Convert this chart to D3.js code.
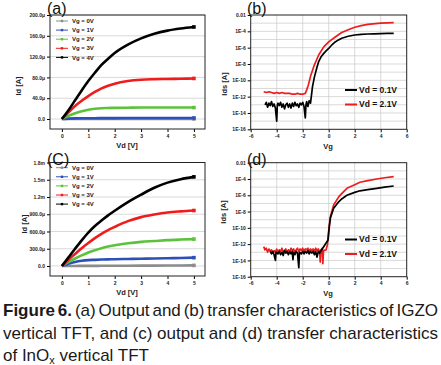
<html>
<head>
  <script src="https://d3js.org/d3.v7.min.js"></script>
  <style>
    body { margin: 0; background: #fff; }
    text { font-family: "Liberation Sans", Arial, sans-serif; }
    .tick text { font-weight: bold; font-size: 5px; fill: #222; }
    .grid line { stroke: #c8c8c8; stroke-width: 0.7; }
  </style>
</head>
<body>
<script>
// ---- data (currents of output curves in uA, transfer curves as log10 of A) ----
var vd = [0, 0.25, 0.5, 0.75, 1, 1.25, 1.5, 1.75, 2, 2.5, 3, 3.5, 4, 4.5, 5];
var gateLabels = ["Vg = 0V", "Vg = 1V", "Vg = 2V", "Vg = 3V", "Vg = 4V"];
var gateColors = ["#8c8c8c", "#2f4fb8", "#5cc23c", "#f01c1c", "#000000"];

var igzoOut = [
  [0, 0.1, 0.1, 0.2, 0.2, 0.2, 0.2, 0.2, 0.2, 0.2, 0.2, 0.2, 0.2, 0.2, 0.2],
  [0, 0.8, 1.2, 1.4, 1.5, 1.6, 1.7, 1.7, 1.8, 1.9, 2, 2, 2, 2, 2],
  [0, 6, 11, 15, 18, 19.8, 20.8, 21.2, 21.5, 21.8, 22, 22, 22, 22, 22],
  [0, 13, 25, 35, 44, 52, 59, 64, 68, 73, 75.5, 76.5, 77, 77.5, 78],
  [0, 17, 36, 55, 73, 89, 104, 116, 127, 143, 155, 164, 170, 174, 177]
];
var inoxOut = [
  [0, 0.5, 1, 1.5, 2, 2.5, 3, 3.5, 4, 5, 6, 7, 8, 9, 10],
  [0, 40, 70, 90, 102, 107, 112, 115, 118, 122, 126, 130, 135, 140, 145],
  [0, 70, 130, 185, 235, 275, 310, 338, 360, 395, 420, 435, 450, 460, 468],
  [0, 110, 210, 310, 400, 485, 560, 625, 680, 780, 850, 895, 930, 950, 965],
  [0, 150, 300, 445, 580, 695, 790, 880, 960, 1110, 1240, 1360, 1450, 1510, 1550]
];
var vdTicks = [0, 1, 2, 3, 4, 5];
var igzoTicks = [0, 40, 80, 120, 160, 200];
var igzoTickLabels = ["0.0", "40.0\u03bc", "80.0\u03bc", "120.0\u03bc", "160.0\u03bc", "200.0\u03bc"];
var inoxTicks = [0, 300, 600, 900, 1200, 1500, 1800];
var inoxTickLabels = ["0.0", "300.0\u03bc", "600.0\u03bc", "900.0\u03bc", "1.2m", "1.5m", "1.8m"];

var logTicks = [-2, -4, -6, -8, -10, -12, -14, -16];
var logTickLabels = ["0.01", "1E-4", "1E-6", "1E-8", "1E-10", "1E-12", "1E-14", "1E-16"];
var vgTicks = [-6, -4, -2, 0, 2, 4, 6];
var vgTickLabels = ["-6", "-4", "-2", "0", "2", "4", "6"];
var drainLabels = ["Vd = 0.1V", "Vd = 2.1V"];
var drainColors = ["#000000", "#ee1c1c"];

var igzoLowVg = [-4.9, -4.8, -4.7, -4.6, -4.5, -4.4, -4.3, -4.2, -4.1, -4.0, -3.95, -3.9, -3.8, -3.7, -3.6, -3.5, -3.4, -3.3, -3.2, -3.1, -3.0, -2.9, -2.8, -2.7, -2.6, -2.5, -2.4, -2.3, -2.2, -2.1, -2.0, -1.9, -1.8, -1.75, -1.7, -1.6, -1.5, -1.4, -1.3, -1.25, -1.1, -1.0, -0.9, -0.77, -0.6, -0.38, -0.2, 0, 0.25, 0.5, 0.75, 1, 1.5, 2, 2.5, 3, 3.5, 4, 4.5, 5];
var igzoLow = [-13.0, -12.7, -13.3, -12.8, -13.1, -12.6, -13.2, -12.9, -13.4, -15.0, -13.0, -12.8, -13.1, -12.7, -13.3, -12.9, -13.5, -13.0, -12.8, -13.3, -12.9, -13.4, -12.8, -13.2, -12.7, -13.1, -12.9, -13.3, -12.8, -13.0, -12.7, -13.2, -14.6, -13.0, -12.6, -13.2, -12.5, -12.8, -11.5, -10.8, -9.6, -9.0, -8.4, -7.7, -7.15, -6.7, -6.4, -6.1, -5.65, -5.3, -5.05, -4.85, -4.6, -4.45, -4.38, -4.33, -4.3, -4.28, -4.26, -4.25];
var igzoHighVg = [-5, -4.8, -4.6, -4.4, -4.2, -4, -3.8, -3.6, -3.4, -3.2, -3, -2.8, -2.6, -2.4, -2.2, -2.0, -1.8, -1.7, -1.57, -1.38, -1.1, -0.77, -0.38, 0, 0.5, 1, 1.5, 2, 2.5, 3, 4, 5];
var igzoHigh = [-11.4, -11.5, -11.4, -11.5, -11.6, -11.5, -11.6, -11.5, -11.6, -11.6, -11.6, -11.7, -11.7, -11.6, -11.7, -11.7, -11.6, -11.2, -10.6, -9.4, -8.1, -6.9, -5.9, -5.3, -4.7, -4.15, -3.8, -3.5, -3.3, -3.15, -3.0, -2.93];

var inoxLowVg = [-4.5, -4.4, -4.3, -4.2, -4.1, -4.05, -3.9, -3.8, -3.7, -3.6, -3.5, -3.4, -3.3, -3.2, -3.1, -3.0, -2.9, -2.8, -2.75, -2.7, -2.6, -2.5, -2.4, -2.3, -2.25, -2.1, -2.0, -1.9, -1.8, -1.7, -1.6, -1.5, -1.4, -1.3, -1.2, -1.1, -1.0, -0.9, -0.8, -0.7, -0.05, 0.05, 0.13, 0.38, 0.77, 1.0, 1.4, 2, 2.4, 3, 3.7, 4.3, 5];
var inoxLow = [-12.9, -13.2, -12.9, -13.3, -14.0, -13.0, -13.2, -12.9, -13.3, -13.0, -13.4, -12.8, -13.1, -12.9, -13.3, -12.9, -13.2, -12.9, -13.9, -13.0, -13.3, -12.9, -13.1, -14.9, -13.0, -13.2, -12.9, -13.2, -12.9, -13.1, -12.8, -13.2, -12.9, -13.1, -12.9, -13.3, -12.9, -13.6, -12.9, -13.1, -11.5, -9.8, -8.8, -7.6, -6.8, -6.45, -6.0, -5.65, -5.45, -5.3, -5.15, -5.0, -4.86];
var inoxHighVg = [-5, -4.9, -4.8, -4.7, -4.6, -4.5, -4.4, -4.3, -4.2, -4.1, -4.0, -3.9, -3.8, -3.7, -3.6, -3.5, -3.4, -3.3, -3.2, -3.1, -3.0, -2.9, -2.8, -2.7, -2.6, -2.5, -2.4, -2.3, -2.2, -2.1, -2.0, -1.9, -1.8, -1.7, -1.6, -1.5, -1.4, -1.3, -1.2, -1.1, -1.0, -0.9, -0.8, -0.7, -0.65, -0.6, -0.5, -0.45, -0.4, -0.2, -0.1, 0, 0.13, 0.38, 0.77, 1.0, 1.4, 2, 2.4, 3, 3.7, 4.3, 5];
var inoxHigh = [-12.3, -12.7, -12.5, -13.0, -12.6, -12.9, -12.7, -13.1, -12.8, -13.0, -12.6, -13.1, -12.7, -12.9, -12.5, -13.0, -12.8, -12.6, -13.1, -12.7, -12.9, -12.5, -12.8, -12.6, -13.0, -12.7, -12.5, -12.9, -12.6, -12.8, -12.5, -12.9, -12.6, -12.7, -12.5, -12.9, -12.6, -12.8, -12.6, -12.9, -12.5, -12.8, -12.6, -12.9, -14.2, -12.7, -12.5, -14.4, -12.8, -12.7, -12.1, -10.3, -8.6, -7.2, -6.2, -5.8, -5.15, -4.7, -4.4, -4.2, -4.0, -3.85, -3.7];

var W = 441, H = 365;
var svg = d3.select("body").append("svg").attr("width", W).attr("height", H);

function frame(g, x, y) {
  var r = x.range(), s = y.range();
  g.append("rect")
    .attr("x", r[0]).attr("y", s[1])
    .attr("width", r[1] - r[0]).attr("height", s[0] - s[1])
    .attr("fill", "none").attr("stroke", "#222").attr("stroke-width", 1);
}

function outputPanel(opt) {
  var g = svg.append("g");
  var x = d3.scaleLinear().domain([-0.45, 5.42]).range([50, 205]);
  var y = d3.scaleLinear().domain(opt.yDomain).range(opt.yRange);

  g.append("g").attr("class", "grid").selectAll("line")
    .data(opt.ticks).enter().append("line")
    .attr("x1", 50).attr("x2", 205)
    .attr("y1", function(d){ return y(d); }).attr("y2", function(d){ return y(d); });

  g.append("g").attr("transform", "translate(50,0)")
    .call(d3.axisLeft(y).tickValues(opt.ticks).tickSize(3).tickPadding(2)
      .tickFormat(function(d, i){ return opt.tickLabels[i]; }))
    .call(function(a){ a.select(".domain").remove(); });
  g.append("g").attr("transform", "translate(0," + opt.yRange[0] + ")")
    .call(d3.axisBottom(x).tickValues(vdTicks).tickSize(3).tickPadding(2)
      .tickFormat(function(d){ return String(d); }))
    .call(function(a){ a.select(".domain").remove(); });

  var line = d3.line()
    .x(function(d, i){ return x(vd[i]); })
    .y(function(d){ return y(d); })
    .curve(d3.curveMonotoneX);
  g.selectAll("path.curve").data(opt.series).enter().append("path")
    .attr("class", "curve")
    .attr("d", line)
    .attr("fill", "none")
    .attr("stroke", function(d, i){ return gateColors[i]; })
    .attr("stroke-width", 2.6);
  g.selectAll("rect.end").data(opt.series).enter().append("rect")
    .attr("class", "end")
    .attr("x", x(5) - 1.8).attr("y", function(d){ return y(d[d.length - 1]) - 1.8; })
    .attr("width", 3.6).attr("height", 3.6)
    .attr("fill", function(d, i){ return gateColors[i]; });

  frame(g, x, y);

  var leg = g.append("g").selectAll("g").data(gateLabels).enter().append("g")
    .attr("transform", function(d, i){ return "translate(56," + (opt.legendTop + i * 9.1) + ")"; });
  leg.append("line").attr("x1", 0).attr("x2", 12)
    .attr("stroke", function(d, i){ return gateColors[i]; }).attr("stroke-width", 1);
  leg.append("rect").attr("x", 4.8).attr("y", -1.2).attr("width", 2.4).attr("height", 2.4)
    .attr("fill", function(d, i){ return gateColors[i]; });
  leg.append("text").attr("x", 16).attr("dy", "0.35em")
    .attr("font-size", 6).attr("font-weight", "bold").attr("fill", "#222")
    .text(function(d){ return d; });

  g.append("text").attr("transform", "translate(" + opt.titleX + "," + opt.titleY + ") rotate(-90)")
    .attr("text-anchor", "middle").attr("font-size", 7.5).attr("font-weight", "bold").attr("fill", "#222")
    .text("Id [A]");
  g.append("text").attr("x", 127).attr("y", opt.xTitleY)
    .attr("text-anchor", "middle").attr("font-size", 7.5).attr("font-weight", "bold").attr("fill", "#222")
    .text("Vd [V]");
  g.append("text").attr("x", 47).attr("y", opt.labelY)
    .attr("font-size", 16).attr("fill", "#111").text(opt.label);
}

function transferPanel(opt) {
  var g = svg.append("g");
  var x = d3.scaleLinear().domain([-6, 6]).range([250.7, 406.7]);
  var y = d3.scaleLog().domain([1e-16, 1e-2]).range(opt.yRange);
  var decades = d3.range(-15, -2).map(function(e){ return Math.pow(10, e); });

  var grid = g.append("g").attr("class", "grid");
  grid.selectAll("line.h").data(decades).enter().append("line").attr("class", "h")
    .attr("x1", 250.7).attr("x2", 406.7)
    .attr("y1", function(d){ return y(d); }).attr("y2", function(d){ return y(d); });
  grid.selectAll("line.v").data([-4, -2, 0, 2, 4]).enter().append("line").attr("class", "v")
    .attr("x1", function(d){ return x(d); }).attr("x2", function(d){ return x(d); })
    .attr("y1", opt.yRange[0]).attr("y2", opt.yRange[1]);

  g.append("g").attr("transform", "translate(250.7,0)")
    .call(d3.axisLeft(y).tickValues(logTicks.map(function(e){ return Math.pow(10, e); }))
      .tickSize(3).tickPadding(2)
      .tickFormat(function(d, i){ return logTickLabels[i]; }))
    .call(function(a){ a.select(".domain").remove(); });
  g.append("g").attr("transform", "translate(0," + opt.yRange[0] + ")")
    .call(d3.axisBottom(x).tickValues(vgTicks).tickSize(3).tickPadding(2)
      .tickFormat(function(d, i){ return vgTickLabels[i]; }))
    .call(function(a){ a.select(".domain").remove(); });

  var line = d3.line()
    .x(function(d){ return x(d[0]); })
    .y(function(d){ return y(Math.pow(10, d[1])); });
  var series = opt.series.map(function(s){ return d3.zip(s[0], s[1]); });
  // red (2.1V) drawn first, black over it
  g.selectAll("path.curve").data([series[1], series[0]]).enter().append("path")
    .attr("class", "curve")
    .attr("d", line)
    .attr("fill", "none")
    .attr("stroke", function(d, i){ return i === 0 ? drainColors[1] : drainColors[0]; })
    .attr("stroke-width", 1.7)
    .attr("stroke-linejoin", "round");

  frame(g, x, y);

  var leg = g.append("g").selectAll("g").data(drainLabels).enter().append("g")
    .attr("transform", function(d, i){ return "translate(345," + (opt.legendTop + i * 14.5) + ")"; });
  leg.append("line").attr("x1", 0).attr("x2", 12)
    .attr("stroke", function(d, i){ return drainColors[i]; }).attr("stroke-width", 2);
  leg.append("text").attr("x", 14).attr("dy", "0.35em")
    .attr("font-size", 8.5).attr("font-weight", "bold").attr("fill", "#111")
    .text(function(d){ return d; });

  g.append("text").attr("transform", "translate(" + opt.titleX + "," + opt.titleY + ") rotate(-90)")
    .attr("text-anchor", "middle").attr("font-size", 7.5).attr("font-weight", "bold").attr("fill", "#222")
    .text("Ids [A]");
  g.append("text").attr("x", 328).attr("y", opt.xTitleY)
    .attr("text-anchor", "middle").attr("font-size", 7.5).attr("font-weight", "bold").attr("fill", "#222")
    .text("Vg");
  g.append("text").attr("x", 247).attr("y", opt.labelY)
    .attr("font-size", 16).attr("fill", "#111").text(opt.label);
}

outputPanel({ series: igzoOut, yDomain: [-19.2, 200], yRange: [129, 15],
  ticks: igzoTicks, tickLabels: igzoTickLabels, legendTop: 21,
  titleX: 21, titleY: 86, xTitleY: 148, label: "(a)", labelY: 14 });
outputPanel({ series: inoxOut, yDomain: [-174, 1800], yRange: [276, 162.5],
  ticks: inoxTicks, tickLabels: inoxTickLabels, legendTop: 167.7,
  titleX: 27, titleY: 224, xTitleY: 295, label: "(C)", labelY: 165 });
transferPanel({ series: [[igzoLowVg, igzoLow], [igzoHighVg, igzoHigh]], yRange: [129.3, 15],
  legendTop: 90, titleX: 227, titleY: 84, xTitleY: 149, label: "(b)", labelY: 14 });
transferPanel({ series: [[inoxLowVg, inoxLow], [inoxHighVg, inoxHigh]], yRange: [276.7, 162.7],
  legendTop: 239.5, titleX: 226, titleY: 212, xTitleY: 296, label: "(d)", labelY: 165 });

// ---- caption ----
var cap = svg.append("g").attr("fill", "#1a1a1a").attr("font-size", 17);
function justify(t, width) {
  var n = t.node();
  var natural = n.getComputedTextLength();
  var spaces = (n.textContent.match(/ /g) || []).length;
  t.attr("word-spacing", (width - natural) / spaces);
}
var l1 = cap.append("text").attr("x", 3).attr("y", 316);
l1.append("tspan").attr("font-weight", "bold").text("Figure 6.");
l1.append("tspan").text(" (a) Output and (b) transfer characteristics of IGZO");
justify(l1, 435);
var l2 = cap.append("text").attr("x", 3).attr("y", 338.5)
  .text("vertical TFT, and (c) output and (d) transfer characteristics");
justify(l2, 435);
var l3 = cap.append("text").attr("x", 3).attr("y", 361);
l3.append("tspan").text("of InO");
l3.append("tspan").attr("font-size", 11).attr("dy", 3).text("x");
l3.append("tspan").attr("dy", -3).text(" vertical TFT");
</script>
</body>
</html>
